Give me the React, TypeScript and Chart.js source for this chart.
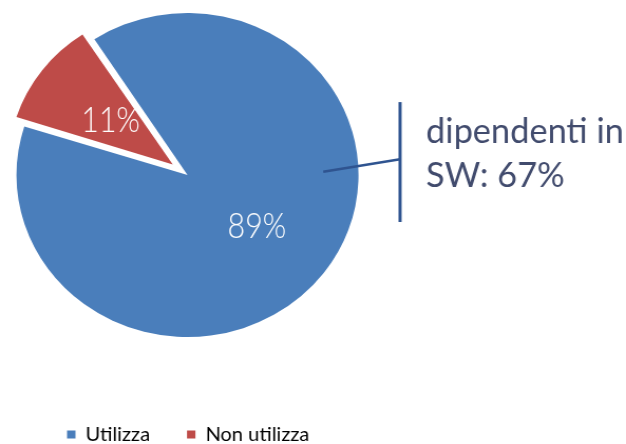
import React, { useEffect, useRef } from "react";
import { Chart, registerables } from "chart.js";

Chart.register(...registerables);

// ---- data ----
const categories = ["Utilizza", "Non utilizza"];
const shares = [89, 11];
const calloutLines = ["dipendenti in", "SW: 67%"];

// ---- styles ----
const sliceColors = ["#4A7EBB", "#BE4B48"];
const explodePx = [0, 17.5]; // visual displacement of each slice
const radiusTrimPx = [0, 6.5]; // exploded slice drawn slightly smaller

// ---- layout (chart space, before horizontal stretch) ----
const W = 593;
const H = 444;
const STRETCH = 626 / W;
const CX = 177.6;
const CY = 175;
const RADIUS = 162;

const placePlugin = {
  id: "placeBoxes",
  afterLayout(chart: any) {
    const a = chart.chartArea;
    a.left = CX - 200;
    a.right = CX + 200;
    a.top = CY - 200;
    a.bottom = CY + 200;
    a.width = 400;
    a.height = 400;
    const lg = chart.legend;
    if (lg) {
      const pad = lg.options.labels.padding;
      const fs = lg.options.labels.font.size;
      const dx = 63.5 - pad - lg.left;
      lg.left += dx;
      lg.right += dx;
      const dy = 434.5 - pad - fs / 2 - lg.top;
      lg.top += dy;
      lg.bottom += dy;
    }
  },
  // Chart.js translates an arc by offset/4 and also enlarges it; control the radius
  afterDatasetUpdate(chart: any, args: any) {
    const meta = chart.getDatasetMeta(args.index);
    meta.data.forEach((arc: any, i: number) => {
      const off = explodePx[i] || 0;
      const circ = arc.circumference;
      const fix = 1 - Math.sin(Math.min(Math.PI, circ || 0));
      arc.outerRadius = arc.outerRadius - off * fix - (radiusTrimPx[i] || 0);
    });
  },
};

const labelPlugin = {
  id: "sliceLabels",
  afterDatasetsDraw(chart: any) {
    const ctx = chart.ctx;
    const meta = chart.getDatasetMeta(0);
    const total = shares.reduce((s, v) => s + v, 0);
    meta.data.forEach((arc: any, i: number) => {
      const { x, y, startAngle, endAngle } = arc.getProps(
        ["x", "y", "startAngle", "endAngle"],
        true
      );
      const mid = (startAngle + endAngle) / 2;
      const r = RADIUS * 0.51 + explodePx[i] / 2;
      const px = x + Math.cos(mid) * r;
      const py = y + Math.sin(mid) * r;
      const size = 35;
      ctx.save();
      ctx.font = `300 ${size}px Lato, "Open Sans", sans-serif`;
      ctx.fillStyle = "#FFFFFF";
      ctx.textAlign = "center";
      ctx.textBaseline = "alphabetic";
      ctx.translate(px, py + size * 0.36);
      ctx.scale(0.82, 1);
      ctx.fillText(Math.round((shares[i] / total) * 100) + "%", 0, 0);
      ctx.restore();
    });
  },
  afterDraw(chart: any) {
    const ctx = chart.ctx;
    const arc = chart.getDatasetMeta(0).data[0];
    if (!arc) return;
    const { x, y } = arc.getProps(["x", "y"], true);
    const R = RADIUS;
    const barX = x + 1.243 * R;
    ctx.save();
    ctx.strokeStyle = "#2F5490";
    ctx.lineWidth = 3;
    ctx.beginPath();
    ctx.moveTo(barX, y - 0.45 * R);
    ctx.lineTo(barX, y + 0.29 * R);
    ctx.stroke();
    ctx.lineWidth = 2.6;
    ctx.beginPath();
    ctx.moveTo(x + 0.794 * R, y - 3.3);
    ctx.lineTo(barX, y - 15.7);
    ctx.stroke();
    const size = 35;
    ctx.font = `${size}px Lato, "Open Sans", sans-serif`;
    ctx.fillStyle = "#414B6D";
    ctx.textAlign = "left";
    ctx.textBaseline = "alphabetic";
    const tx = x + 1.395 * R;
    const baselines = [y - 32, y + 12];
    calloutLines.forEach((t, i) => {
      ctx.save();
      ctx.translate(tx, baselines[i]);
      ctx.scale(0.93, 1);
      ctx.fillText(t, 0, 0);
      ctx.restore();
    });
    ctx.restore();
  },
};

export default function App() {
  const ref = useRef<HTMLCanvasElement | null>(null);

  useEffect(() => {
    if (!ref.current) return;
    const chart = new Chart(ref.current, {
      type: "pie",
      data: {
        labels: categories,
        datasets: [
          {
            data: shares,
            backgroundColor: sliceColors,
            borderWidth: 0,
            offset: explodePx.map((p) => p * 4),
            radius: RADIUS,
            clip: false,
          } as any,
        ],
      },
      options: {
        animation: false,
        responsive: false,
        devicePixelRatio: 1,
        rotation: -33,
        plugins: {
          legend: {
            position: "bottom",
            align: "start",
            labels: {
              boxWidth: 8,
              boxHeight: 8,
              padding: 35,
              color: "#595959",
              font: { family: "Lato", size: 19 },
              generateLabels: (c: any) =>
                c.data.labels.map((l: string, i: number) => ({
                  text: l,
                  fillStyle: sliceColors[i],
                  strokeStyle: sliceColors[i],
                  lineWidth: 0,
                  hidden: false,
                  index: i,
                  datasetIndex: 0,
                })),
            },
          },
          tooltip: { enabled: false },
        },
      } as any,
      plugins: [placePlugin, labelPlugin],
    });
    const fonts = (document as any).fonts;
    if (fonts && fonts.load) {
      Promise.all([
        fonts.load("19px Lato"),
        fonts.load("35px Lato"),
        fonts.load("300 35px Lato"),
      ])
        .then(() => chart.update())
        .catch(() => {});
    }
    return () => chart.destroy();
  }, []);

  return (
    <div style={{ width: 626, height: 444, overflow: "hidden", position: "relative" }}>
      <style>{`body{margin:0;}`}</style>
      <canvas
        ref={ref}
        width={W}
        height={H}
        style={{
          display: "block",
          transform: `scaleX(${STRETCH})`,
          transformOrigin: "0 0",
        }}
      />
    </div>
  );
}
